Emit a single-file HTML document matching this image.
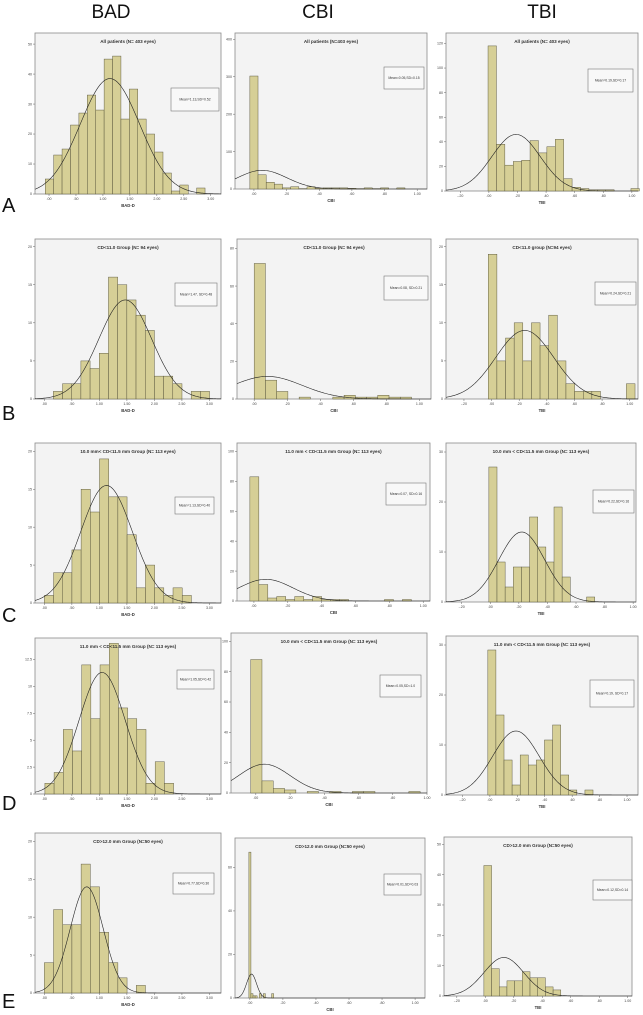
<!DOCTYPE html>
<html><head><meta charset="utf-8"><title>BAD CBI TBI histograms</title>
<style>
html,body{margin:0;padding:0;background:#fff;}
body{width:643px;height:1015px;overflow:hidden;font-family:"Liberation Sans",sans-serif;}
svg{display:block;}
</style></head>
<body>
<svg id="fig" width="643" height="1015" viewBox="0 0 643 1015" xmlns="http://www.w3.org/2000/svg">
  <text x="111" y="18" font-size="19" font-family="Liberation Sans, sans-serif" text-anchor="middle" fill="#111">BAD</text>
  <text x="318" y="18" font-size="19" font-family="Liberation Sans, sans-serif" text-anchor="middle" fill="#111">CBI</text>
  <text x="542" y="18" font-size="19" font-family="Liberation Sans, sans-serif" text-anchor="middle" fill="#111">TBI</text>
  <text x="2" y="212" font-size="20" fill="#111">A</text>
  <text x="2" y="420" font-size="20" fill="#111">B</text>
  <text x="2" y="622" font-size="20" fill="#111">C</text>
  <text x="2" y="810" font-size="20" fill="#111">D</text>
  <text x="2" y="1008" font-size="20" fill="#111">E</text>
</svg>
<script>
// ---- data arrays ----
const badTicks = [0,0.5,1,1.5,2,2.5,3];
const badTickLabels = [".00",".50","1.00","1.50","2.00","2.50","3.00"];
const cbiTicks = [0,0.2,0.4,0.6,0.8,1.0];
const cbiTickLabels = [".00",".20",".40",".60",".80","1.00"];
const tbiTicks = [-0.2,0,0.2,0.4,0.6,0.8,1.0];
const tbiTickLabels = ["-.20",".00",".20",".40",".60",".80","1.00"];

const countsA_BAD = [5,13,15,23,27,33,28,45,46,25,35,25,20,14,7,1,3,0,2];
const countsA_CBI = [302,38,18,13,3,6,1,6,2,3,3,3,2,1,3,1,3,0,3,0];
const countsA_TBI = [118,38,21,24,25,41,31,36,42,10,3,2,1,1,1,0,0,2];
const countsB_BAD = [1,2,2,5,4,6,16,15,13,11,9,3,3,2,0,1,1];
const countsB_CBI = [72,10,4,0,1,0,0,1,2,1,1,2,1,1];
const countsB_TBI = [19,5,8,10,5,10,7,11,5,2,1,1,1,0,0,0,2];
const countsC_BAD = [1,4,4,7,15,12,19,14,14,9,2,5,2,1,2,1];
const countsC_CBI = [83,11,2,3,1,3,1,3,1,1,1,0,0,0,0,1,0,1];
const countsC_TBI = [27,8,3,7,7,17,11,8,19,5,0,0,1];
const countsD_BAD = [1,2,6,4,12,7,12,14,8,7,6,1,3,1];
const countsD_CBI = [88,8,3,2,0,1,0,1,0,1,1,0,0,0,1];
const countsD_TBI = [29,16,7,2,8,6,7,11,14,4,1,0,1];
const countsE_BAD = [4,11,9,9,17,14,8,4,2,0,1];
const countsE_CBI = [67,2,1,1,0,2,0,2,0,0,0,2];
const countsE_TBI = [43,9,3,5,5,8,6,6,3,2];

// fitted normal curves: mean, sd, peak height (count)
const curveMeans = [1.13,0.05,0.19, 1.47,0.08,0.24, 1.13,0.07,0.22, 1.05,0.05,0.19, 0.77,0.01,0.13];
const curveSDs   = [0.55,0.15,0.17, 0.48,0.21,0.21, 0.47,0.16,0.16, 0.42,0.15,0.17, 0.30,0.03,0.14];
const curvePeaks = [38.5,50,46, 13,12,9, 15.5,14.5,14, 11.3,19,12.8, 14,11,12.7];
// bin start and width
const binStarts = [-0.07,-0.025,-0.006, 0.163,0,-0.024, 0,-0.024,-0.01, 0.01,-0.03,-0.015, 0,-0.006,-0.01];
const binWidths = [0.156,0.05,0.0588, 0.167,0.068,0.0625, 0.167,0.053,0.057, 0.167,0.066,0.059, 0.167,0.0125,0.054];
const yMaxes = [53.7,417,128.5, 21,85,21, 21.1,105.6,31.8, 14.5,105.5,31.8, 21.1,73.5,52.4];
const yTickSteps = [10,100,20, 5,20,5, 5,20,10, 2.5,20,10, 5,20,10];
const titles = [
 "All patients (N= 403 eyes)","All patients (N=403 eyes)","All patients (N= 403 eyes)",
 "CD<11.0 Group (N= 94 eyes)","CD<11.0 Group (N= 94 eyes)","CD<11.0 group (N=94 eyes)",
 "10.0 mm< CD<11.5 mm Group (N= 113 eyes)","11.0 mm < CD<11.5 mm Group (N= 113 eyes)","10.0 mm < CD<11.5 mm Group (N= 113 eyes)",
 "11.0 mm < CD<11.5 mm Group (N= 113 eyes)","10.0 mm < CD<11.5 mm Group (N= 113 eyes)","11.0 mm < CD<11.5 mm Group (N= 113 eyes)",
 "CD>12.0 mm Group (N=50 eyes)","CD>12.0 mm Group (N=50 eyes)","CD>12.0 mm Group (N=50 eyes)"];
const legendTexts = [
 "Mean=1.13,SD=0.52","Mean=0.05,SD=0.15","Mean=0.19,SD=0.17",
 "Mean=1.47, SD=0.48","Mean=0.08, SD=0.21","Mean=0.24,SD=0.21",
 "Mean=1.13,SD=0.40","Mean=0.07, SD=0.16","Mean=0.22,SD=0.16",
 "Mean=1.05,SD=0.42","Mean=0.05,SD=1.0","Mean=0.19, SD=0.17",
 "Mean=0.77,SD=0.30","Mean=0.01,SD=0.03","Mean=0.12,SD=0.14"];
const allCounts = [countsA_BAD,countsA_CBI,countsA_TBI,countsB_BAD,countsB_CBI,countsB_TBI,
  countsC_BAD,countsC_CBI,countsC_TBI,countsD_BAD,countsD_CBI,countsD_TBI,countsE_BAD,countsE_CBI,countsE_TBI];

// ---- layout (pixel geometry) ----
const layout = [
 {x0:35,x1:221,y0:33,y1:194,d0:-0.26,d1:3.19,lg:[171,88,48,23]},
 {x0:235,x1:427,y0:33,y1:189,d0:-0.116,d1:1.06,lg:[384,67,40,22]},
 {x0:446,x1:638,y0:33,y1:191,d0:-0.30,d1:1.043,lg:[588,69,45,23]},
 {x0:35,x1:221,y0:239,y1:399,d0:-0.17,d1:3.21,lg:[175,283,42,23]},
 {x0:237,x1:431,y0:239,y1:399,d0:-0.104,d1:1.07,lg:[384,276,44,24]},
 {x0:446,x1:638,y0:239,y1:399,d0:-0.33,d1:1.06,lg:[595,282,41,23]},
 {x0:35,x1:221,y0:443,y1:603,d0:-0.17,d1:3.21,lg:[175,497,39,17]},
 {x0:237,x1:430,y0:443,y1:601,d0:-0.10,d1:1.04,lg:[386,483,40,22]},
 {x0:446,x1:636,y0:443,y1:602,d0:-0.31,d1:1.02,lg:[593,490,41,23]},
 {x0:35,x1:221,y0:638,y1:794,d0:-0.17,d1:3.21,lg:[177,670,37,19]},
 {x0:231,x1:427,y0:633,y1:793,d0:-0.145,d1:1.0,lg:[380,675,41,22]},
 {x0:446,x1:638,y0:636,y1:795,d0:-0.32,d1:1.08,lg:[590,680,44,27]},
 {x0:35,x1:221,y0:833,y1:993,d0:-0.17,d1:3.21,lg:[173,873,41,21]},
 {x0:235,x1:425,y0:838,y1:998,d0:-0.09,d1:1.06,lg:[384,874,37,21]},
 {x0:444,x1:632,y0:837,y1:996,d0:-0.29,d1:1.03,lg:[593,880,39,20]}
];
const colTicks=[badTicks,cbiTicks,tbiTicks], colTickLabels=[badTickLabels,cbiTickLabels,tbiTickLabels];
const colNames=["bad","cbi","tbi"], axisTitles=["BAD-D","CBI","TBI"], rowNames=["a","b","c","d","e"];

const NS="http://www.w3.org/2000/svg";
const svg=document.getElementById('fig');
function mk(tag,attrs,parent){const e=document.createElementNS(NS,tag);for(const k in attrs)e.setAttribute(k,attrs[k]);(parent||svg).appendChild(e);return e;}

for(let i=0;i<15;i++){
  const L=layout[i], col=i%3, row=Math.floor(i/3);
  const pid='panel-'+rowNames[row]+'-'+colNames[col];
  const g=mk('g',{});
  
  
  const xs=v=>L.x0+(v-L.d0)/(L.d1-L.d0)*(L.x1-L.x0);
  const ys=v=>L.y1-v/yMaxes[i]*(L.y1-L.y0);
  const bg=mk('rect',{x:L.x0,y:L.y0,width:L.x1-L.x0,height:L.y1-L.y0,fill:'#f3f3f3',stroke:'#8a8a8a','stroke-width':0.8},g);
  
  
  // bars
  const cts=allCounts[i];
  for(let b=0;b<cts.length;b++){
    if(cts[b]<=0) continue;
    const a=binStarts[i]+b*binWidths[i], c=a+binWidths[i];
    const r=mk('rect',{x:xs(a),y:ys(cts[b]),width:Math.max(0.6,xs(c)-xs(a)),height:L.y1-ys(cts[b]),fill:'#d6cf96',stroke:'#55523a','stroke-width':0.45},g);
    
    
  }
  // normal curve
  let d='';
  for(let k=0;k<=200;k++){
    const v=L.d0+(L.d1-L.d0)*k/200;
    const h=curvePeaks[i]*Math.exp(-0.5*Math.pow((v-curveMeans[i])/curveSDs[i],2));
    d+=(k?'L':'M')+xs(v).toFixed(2)+','+ys(h).toFixed(2);
  }
  const cv=mk('path',{d:d,fill:'none',stroke:'#222','stroke-width':0.6},g);
  
  
  // x ticks
  const tk=colTicks[col], tl=colTickLabels[col];
  for(let t=0;t<tk.length;t++){
    const x=xs(tk[t]);
    mk('line',{x1:x,x2:x,y1:L.y1,y2:L.y1+2,stroke:'#666','stroke-width':0.5},g);
    const tx=mk('text',{x:x,y:L.y1+6,'font-size':3.6,'text-anchor':'middle',fill:'#444'},g);
    tx.textContent=tl[t];
    
    
  }
  // y ticks
  for(let v=0;v<=yMaxes[i]+1e-6;v+=yTickSteps[i]){
    const y=ys(v);
    mk('line',{x1:L.x0-2,x2:L.x0,y1:y,y2:y,stroke:'#666','stroke-width':0.5},g);
    const ty=mk('text',{x:L.x0-3,y:y+1.2,'font-size':3.6,'text-anchor':'end',fill:'#444'},g);
    ty.textContent=String(Math.round(v*10)/10);
    
    
  }
  // title
  const tt=mk('text',{x:(L.x0+L.x1)/2,y:L.y0+10,'font-size':4.6,'font-weight':'bold','text-anchor':'middle',fill:'#333'},g);
  tt.textContent=titles[i];
  
  
  // x axis title
  const xt=mk('text',{x:(L.x0+L.x1)/2,y:L.y1+13,'font-size':4.2,'font-weight':'bold','text-anchor':'middle',fill:'#333'},g);
  xt.textContent=axisTitles[col];
  
  
  // legend box
  const lg=L.lg;
  const lr=mk('rect',{x:lg[0],y:lg[1],width:lg[2],height:lg[3],fill:'#f8f8f8',stroke:'#777','stroke-width':0.6},g);
  
  
  const lt=mk('text',{x:lg[0]+lg[2]/2,y:lg[1]+lg[3]/2+1.2,'font-size':3.4,'text-anchor':'middle',fill:'#333'},g);
  lt.textContent=legendTexts[i];
  
  
}
</script>
</body></html>
